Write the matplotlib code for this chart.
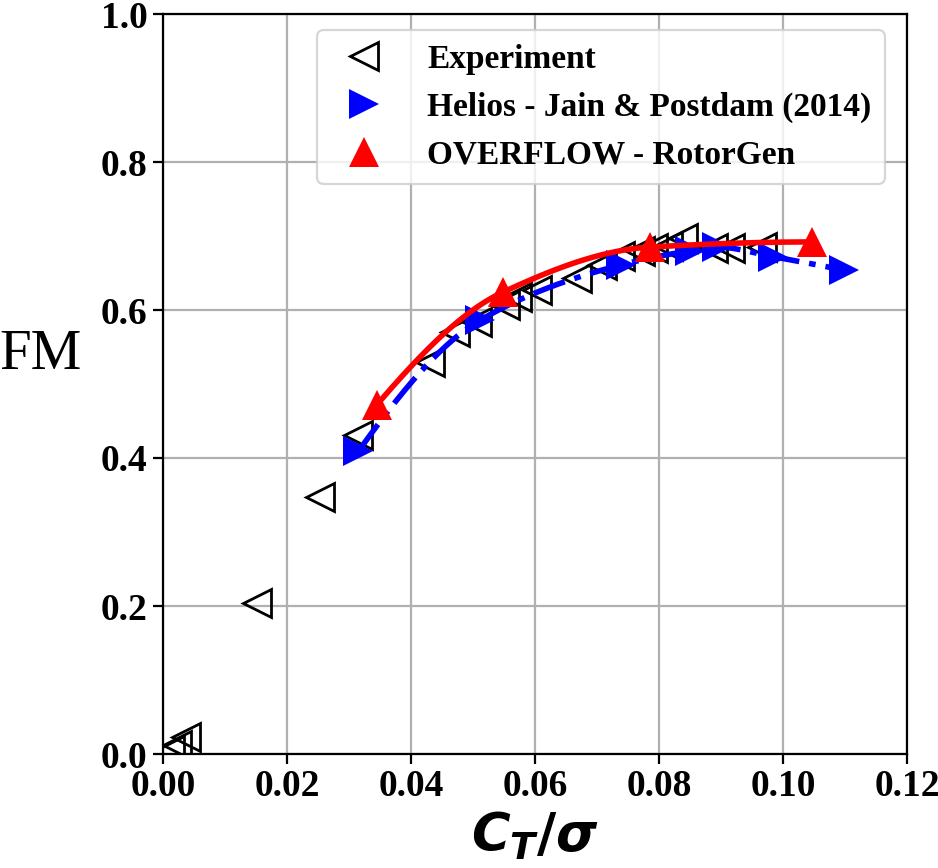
import numpy as np
import matplotlib
matplotlib.use("Agg")
import matplotlib.pyplot as plt
from matplotlib.ticker import FormatStrFormatter

# Hover figure of merit vs. blade loading
ct_exp = [0.0011, 0.0023, 0.0037, 0.0152, 0.0253, 0.0315, 0.0431, 0.0471,
          0.0506, 0.0552, 0.0571, 0.0603, 0.0668, 0.0708, 0.0737, 0.0769,
          0.0790, 0.0815, 0.0839, 0.0887, 0.0915, 0.0966]
fm_exp = [0.005, 0.012, 0.023, 0.204, 0.347, 0.431, 0.530, 0.570,
          0.584, 0.607, 0.618, 0.627, 0.643, 0.661, 0.673, 0.680,
          0.684, 0.686, 0.697, 0.684, 0.684, 0.685]

ct_helios = [0.0315, 0.0511, 0.0739, 0.0850, 0.0894, 0.0984, 0.1098]
fm_helios = [0.409, 0.586, 0.661, 0.680, 0.685, 0.672, 0.654]

ct_overflow = [0.0345, 0.0548, 0.0785, 0.1047]
fm_overflow = [0.472, 0.624, 0.685, 0.692]

x_ticks = [0.00, 0.02, 0.04, 0.06, 0.08, 0.10, 0.12]
y_ticks = [0.0, 0.2, 0.4, 0.6, 0.8, 1.0]


def pchip_curve(x, y, n=300):
    """Shape-preserving cubic (Fritsch-Carlson) through the given points."""
    x = np.asarray(x, float)
    y = np.asarray(y, float)
    h = np.diff(x)
    delta = np.diff(y) / h
    d = np.zeros_like(y)
    for k in range(1, len(x) - 1):
        if delta[k - 1] * delta[k] > 0:
            w1 = 2 * h[k] + h[k - 1]
            w2 = h[k] + 2 * h[k - 1]
            d[k] = (w1 + w2) / (w1 / delta[k - 1] + w2 / delta[k])

    def end_slope(h0, h1, d0, d1):
        s = ((2 * h0 + h1) * d0 - h0 * d1) / (h0 + h1)
        if np.sign(s) != np.sign(d0):
            s = 0.0
        elif np.sign(d0) != np.sign(d1) and abs(s) > abs(3 * d0):
            s = 3 * d0
        return s

    d[0] = end_slope(h[0], h[1], delta[0], delta[1])
    d[-1] = end_slope(h[-1], h[-2], delta[-1], delta[-2])

    xs = np.linspace(x[0], x[-1], n)
    idx = np.clip(np.searchsorted(x, xs) - 1, 0, len(x) - 2)
    t = (xs - x[idx]) / h[idx]
    h00 = 2 * t**3 - 3 * t**2 + 1
    h10 = t**3 - 2 * t**2 + t
    h01 = -2 * t**3 + 3 * t**2
    h11 = t**3 - t**2
    ys = (h00 * y[idx] + h10 * h[idx] * d[idx]
          + h01 * y[idx + 1] + h11 * h[idx] * d[idx + 1])
    return xs, ys


plt.rcParams["mathtext.fontset"] = "custom"
plt.rcParams["mathtext.it"] = "DejaVu Sans:italic:bold"
plt.rcParams["mathtext.rm"] = "DejaVu Sans:bold"
plt.rcParams["mathtext.bf"] = "DejaVu Sans:bold"

fig = plt.figure(figsize=(9.38, 8.68), dpi=100)
ax = fig.add_axes([163 / 938, 1 - 754 / 868, 744 / 938, 740 / 868])

ax.grid(True, color="#b0b0b0", linewidth=1.6, zorder=0)
ax.set_axisbelow(True)

ax.plot(ct_exp, fm_exp, linestyle="none", marker="<", markersize=20,
        markerfacecolor="none", markeredgecolor="black", markeredgewidth=2.0,
        label="Experiment", zorder=3)

ax.plot(ct_helios, fm_helios, linestyle="none", marker=">", markersize=22,
        color="blue", markeredgewidth=0, label="Helios - Jain & Postdam (2014)",
        zorder=4)
hx, hy = pchip_curve(ct_helios, fm_helios)
ax.plot(hx, hy, color="blue", linewidth=4.0, dashes=(6.0, 1.8, 1.2, 1.8),
        zorder=5)

ax.plot(ct_overflow, fm_overflow, linestyle="none", marker="^", markersize=21,
        color="red", markeredgewidth=0, label="OVERFLOW - RotorGen", zorder=6)
ox, oy = pchip_curve(ct_overflow, fm_overflow)
ax.plot(ox, oy, color="red", linewidth=4.0, zorder=7)

ax.set_xlim(0, 0.12)
ax.set_ylim(0, 1.0)
ax.set_xticks(x_ticks)
ax.set_yticks(y_ticks)
ax.xaxis.set_major_formatter(FormatStrFormatter("%.2f"))
ax.yaxis.set_major_formatter(FormatStrFormatter("%.1f"))

for lbl in ax.get_xticklabels() + ax.get_yticklabels():
    lbl.set_fontfamily("Liberation Serif")
    lbl.set_fontweight("bold")
    lbl.set_fontsize(27)
ax.tick_params(axis="both", length=7, width=1.6, direction="out", pad=4)
for sp in ax.spines.values():
    sp.set_linewidth(1.6)

ax.set_xlabel(r"$C_T/\sigma$", fontsize=38, labelpad=4)
ax.set_ylabel("FM", family="Liberation Serif", fontsize=41, rotation=0,
              ha="center", va="center")
ax.yaxis.set_label_coords(-0.165, 0.539)

leg = ax.legend(loc="upper right", bbox_to_anchor=(0.970, 0.978),
                borderaxespad=0,
                prop={"family": "Liberation Serif", "weight": "bold", "size": 24},
                handletextpad=0.9, labelspacing=0.5, borderpad=0.4,
                fancybox=True, framealpha=0.8, edgecolor="0.8")
leg.get_frame().set_linewidth(1.6)

fig.savefig("out.png", dpi=100)
